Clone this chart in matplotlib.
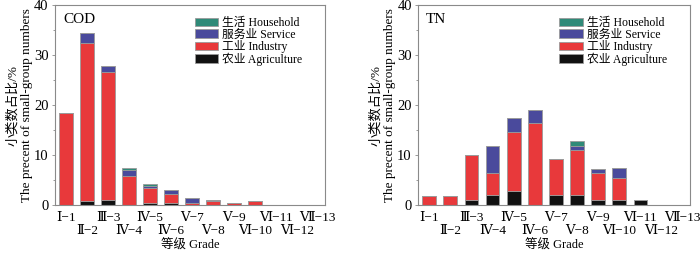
import matplotlib
matplotlib.use("Agg")
import matplotlib.pyplot as plt
import numpy as np

plt.rcParams['font.family'] = ['Liberation Serif', 'DejaVu Serif', 'Noto Sans CJK SC']

grades = ["Ⅰ−1", "Ⅱ−2", "Ⅲ−3", "Ⅳ−4", "Ⅳ−5", "Ⅳ−6", "Ⅴ−7",
          "Ⅴ−8", "Ⅴ−9", "Ⅵ−10", "Ⅵ−11", "Ⅵ−12", "Ⅶ−13"]
series_names = ["农业 Agriculture", "工业 Industry", "服务业 Service", "生活 Household"]
colors = ["#111111", "#e8393b", "#4a4a9c", "#2f8a78"]

# COD
cod_agr = [0, 0.8, 1.1, 0, 0.4, 0.4, 0, 0, 0, 0, 0, 0, 0]
cod_ind = [18.4, 31.7, 25.6, 5.8, 3.1, 1.9, 0.35, 0.8, 0.4, 0.8, 0, 0, 0]
cod_svc = [0, 2.0, 1.2, 1.2, 0.4, 0.8, 1.15, 0.3, 0, 0, 0, 0, 0]
cod_hh = [0, 0, 0, 0.4, 0.35, 0, 0, 0, 0, 0, 0, 0, 0]

# TN
tn_agr = [0, 0, 1.0, 2.0, 2.8, 0, 2.0, 2.0, 1.0, 1.0, 1.0, 0, 0]
tn_ind = [1.9, 1.9, 9.1, 4.4, 11.9, 16.4, 7.2, 9.0, 5.4, 4.4, 0, 0, 0]
tn_svc = [0, 0, 0, 5.5, 2.7, 2.7, 0, 0.8, 0.9, 2.0, 0, 0, 0]
tn_hh = [0, 0, 0, 0, 0, 0, 0, 1.0, 0, 0, 0, 0, 0]


def draw(ax, name, layers):
    x = np.arange(1, len(grades) + 1)
    bottom = np.zeros(len(grades))
    handles = []
    for vals, lab, c in zip(layers, series_names, colors):
        vals = np.array(vals)
        b = ax.bar(x, vals, 0.65, bottom=bottom, color=c, edgecolor="#9a9a9a",
                   linewidth=0.6, label=lab)
        handles.append(b)
        bottom = bottom + vals
    ax.set_xlim(0.47, 13.35)
    ax.set_ylim(0, 40)
    ax.set_yticks([0, 10, 20, 30, 40])
    ax.set_yticks([5, 15, 25, 35], minor=True)
    # odd grades on the first row, even grades on the second row
    ax.set_xticks(x[::2])
    ax.set_xticklabels(grades[::2], fontsize=9.5)
    ax.set_xticks(x[1::2], minor=True)
    ax.set_xticklabels(grades[1::2], minor=True, fontsize=9.5)
    ax.tick_params(axis='x', which='major', length=0, pad=5)
    ax.tick_params(axis='x', which='minor', length=0, pad=14.5)
    ax.tick_params(axis='y', which='major', length=2.5, width=0.6, color="#888888",
                   labelsize=10.5, pad=2)
    ax.tick_params(axis='y', which='minor', length=1.5, width=0.6, color="#888888")
    for s in ax.spines.values():
        s.set_color("#8a8a8a")
        s.set_linewidth(0.8)
    ax.set_xlabel("等级 Grade", fontsize=9, labelpad=1.5)
    ax.set_ylabel("小类数占比/%\nThe precent of small-group numbers", fontsize=9.5,
                  labelpad=1, linespacing=1.15)
    ax.text(0.03, 0.96, name, transform=ax.transAxes, fontsize=11, va='top', ha='left')
    ax.legend(handles[::-1], series_names[::-1], loc='upper right', frameon=False,
              fontsize=8.5, handlelength=2.0, handleheight=0.75, labelspacing=-0.05,
              handletextpad=0.3, borderaxespad=0.3, bbox_to_anchor=(0.945, 0.98))


fig = plt.figure(figsize=(7.0, 2.54), dpi=100)
ax1 = fig.add_axes([55 / 700, 49 / 254, 270 / 700, 200 / 254])
ax2 = fig.add_axes([418 / 700, 49 / 254, 272 / 700, 200 / 254])
draw(ax1, "COD", [cod_agr, cod_ind, cod_svc, cod_hh])
draw(ax2, "TN", [tn_agr, tn_ind, tn_svc, tn_hh])
fig.savefig("out.png", dpi=100)
